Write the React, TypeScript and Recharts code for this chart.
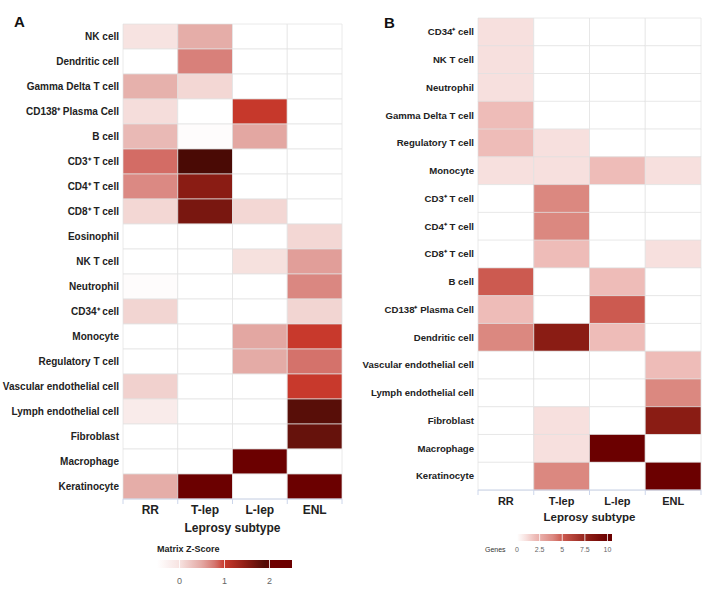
import React from "react";
import { BarChart, Bar, Cell, XAxis, YAxis } from "recharts";

const subtypes = ["RR", "T-lep", "L-lep", "ENL"];

// Panel A: matrix z-score per cell type
const rowsA = [
  "NK cell",
  "Dendritic cell",
  "Gamma Delta T cell",
  "CD138⁺ Plasma Cell",
  "B cell",
  "CD3⁺ T cell",
  "CD4⁺ T cell",
  "CD8⁺ T cell",
  "Eosinophil",
  "NK T cell",
  "Neutrophil",
  "CD34⁺ cell",
  "Monocyte",
  "Regulatory T cell",
  "Vascular endothelial cell",
  "Lymph endothelial cell",
  "Fibroblast",
  "Macrophage",
  "Keratinocyte",
];
const zRR = [0.0, -0.5, 0.42, 0.05, 0.35, 0.82, 0.67, 0.1, -0.5, -0.5, -0.45, 0.12, -0.5, -0.5, 0.15, -0.15, -0.5, -0.5, 0.45];
const zTlep = [0.45, 0.72, 0.1, -0.5, -0.45, 1.95, 1.5, 1.62, -0.5, -0.5, -0.5, -0.5, -0.5, -0.5, -0.5, -0.5, -0.5, -0.5, 2.5];
const zLlep = [-0.5, -0.5, -0.5, 1.02, 0.5, -0.5, -0.5, 0.1, -0.5, 0.02, -0.5, -0.5, 0.5, 0.47, -0.5, -0.5, -0.5, 2.5, -0.5];
const zENL = [-0.5, -0.5, -0.5, -0.5, -0.5, -0.5, -0.5, -0.5, 0.1, 0.55, 0.68, 0.12, 1.0, 0.8, 1.0, 1.85, 1.75, -0.5, 2.5];
const zTicks = [0, 1, 2];

// Panel B: number of genes per cell type
const rowsB = [
  "CD34⁺ cell",
  "NK T cell",
  "Neutrophil",
  "Gamma Delta T cell",
  "Regulatory T cell",
  "Monocyte",
  "CD3⁺ T cell",
  "CD4⁺ T cell",
  "CD8⁺ T cell",
  "B cell",
  "CD138⁺ Plasma Cell",
  "Dendritic cell",
  "Vascular endothelial cell",
  "Lymph endothelial cell",
  "Fibroblast",
  "Macrophage",
  "Keratinocyte",
];
const gRR = [1, 1, 1, 2, 2, 1, 0, 0, 0, 5, 2, 4, 0, 0, 0, 0, 0];
const gTlep = [0, 0, 0, 0, 1, 1, 4, 4, 2, 0, 0, 8, 0, 0, 1, 1, 4];
const gLlep = [0, 0, 0, 0, 0, 2, 0, 0, 0, 2, 5, 2, 0, 0, 0, 10, 0];
const gENL = [0, 0, 0, 0, 0, 1, 0, 0, 1, 0, 0, 0, 2, 4, 8, 0, 10];
const gTicks = [0, 2.5, 5, 7.5, 10];

const stopsA: [number, string][] = [
  [-0.5, "#ffffff"],
  [0, "#f7e3e1"],
  [0.5, "#e3a7a2"],
  [0.8, "#d4726b"],
  [1.0, "#c8392c"],
  [1.5, "#8a1c14"],
  [1.95, "#4a0a05"],
  [2.0, "#700000"],
  [2.5, "#6b0000"],
];
const stopsB: [number, string][] = [
  [0, "#ffffff"],
  [1, "#f7e0de"],
  [2, "#eebcb8"],
  [4, "#db8880"],
  [5, "#cc5a50"],
  [8, "#8a1c14"],
  [10, "#6b0000"],
  [10.5, "#6b0000"],
];

const hex = (c: string) => [1, 3, 5].map((i) => parseInt(c.slice(i, i + 2), 16));

const colorScale = (stops: [number, string][]) => (v: number) => {
  if (v <= stops[0][0]) return stops[0][1];
  for (let i = 1; i < stops.length; i++) {
    const [v1, c1] = stops[i];
    if (v <= v1) {
      const [v0, c0] = stops[i - 1];
      const t = (v - v0) / (v1 - v0);
      const a = hex(c0);
      const b = hex(c1);
      const m = a.map((x, k) => Math.round(x + (b[k] - x) * t));
      return `rgb(${m[0]},${m[1]},${m[2]})`;
    }
  }
  return stops[stops.length - 1][1];
};

const colorA = colorScale(stopsA);
const colorB = colorScale(stopsB);

const columnsA = [zRR, zTlep, zLlep, zENL];
const columnsB = [gRR, gTlep, gLlep, gENL];

const tableA = rowsA.map((cell) => ({ cell, RR: 1, "T-lep": 1, "L-lep": 1, ENL: 1 }));
const tableB = rowsB.map((cell) => ({ cell, RR: 1, "T-lep": 1, "L-lep": 1, ENL: 1 }));

const AXIS = "#ccd6eb";
const GRID = "rgba(225,225,225,0.7)";

const SubtypeTick = (props: any) => {
  const { x, y, payload, size } = props;
  const v = payload.value;
  if (Number.isInteger(v)) {
    return <line x1={x} x2={x} y1={y} y2={y + 5} stroke={AXIS} />;
  }
  return (
    <text x={x} y={y + 15} textAnchor="middle" fontSize={size} fontWeight={700} fill="#222">
      {subtypes[Math.floor(v)]}
    </text>
  );
};

const CellTick = (props: any) => {
  const { x, y, payload, size } = props;
  return (
    <text x={x} y={y} dy="0.35em" textAnchor="end" fontSize={size} fontWeight={700} fill="#222">
      {payload.value}
    </text>
  );
};

interface IHeatProps {
  data: { cell: string }[];
  columns: number[][];
  color: (v: number) => string;
  width: number;
  height: number;
  top: number;
  right: number;
  axisWidth: number;
  xHeight: number;
  bottom: number;
  tickSize: number;
  labelSize: number;
  titleOffset: number;
  titleSize: number;
}

const Heat: React.FC<IHeatProps> = ({
  data,
  columns,
  color,
  width,
  height,
  top,
  right,
  axisWidth,
  xHeight,
  bottom,
  tickSize,
  labelSize,
  titleOffset,
  titleSize,
}) => (
  <BarChart
    width={width}
    height={height}
    data={data}
    layout="vertical"
    barCategoryGap={0}
    barGap={0}
    margin={{ top, right, left: 0, bottom }}
  >
    <XAxis
      type="number"
      domain={[0, 4]}
      ticks={[0, 0.5, 1, 1.5, 2, 2.5, 3, 3.5, 4]}
      interval={0}
      height={xHeight}
      tickSize={0}
      tickMargin={0}
      tickLine={false}
      axisLine={{ stroke: AXIS }}
      tick={<SubtypeTick size={tickSize} />}
      label={{
        value: "Leprosy subtype",
        position: "insideTop",
        offset: titleOffset,
        fontSize: titleSize,
        fontWeight: 700,
        fill: "#222",
        style: { fontSize: titleSize, fontWeight: 700, fill: "#222" },
      }}
    />
    <YAxis
      type="category"
      dataKey="cell"
      width={axisWidth}
      interval={0}
      tickLine={false}
      axisLine={false}
      tickSize={0}
      tickMargin={4}
      tick={<CellTick size={labelSize} />}
    />
    {subtypes.map((s, j) => (
      <Bar key={s} dataKey={s} stackId="h" isAnimationActive={false} stroke={GRID} strokeWidth={1}>
        {data.map((_, i) => (
          <Cell key={i} fill={color(columns[j][i])} stroke={GRID} />
        ))}
      </Bar>
    ))}
  </BarChart>
);

interface ILegendProps {
  id: string;
  stops: [number, string][];
  ticks: number[];
  color: (v: number) => string;
  x0: number;
  x1: number;
  barY: number;
  barH: number;
  tickY: number;
  fontSize: number;
}

const ColorLegend: React.FC<ILegendProps> = ({ id, stops, ticks, color, x0, x1, barY, barH, tickY, fontSize }) => {
  const lo = stops[0][0];
  const hi = stops[stops.length - 1][0];
  const px = (v: number) => x0 + ((v - lo) / (hi - lo)) * (x1 - x0);
  const samples = Array.from({ length: 41 }, (_, k) => lo + ((hi - lo) * k) / 40);
  return (
    <g>
      <defs>
        <linearGradient id={id} x1="0" y1="0" x2="1" y2="0">
          {samples.map((v, k) => (
            <stop key={k} offset={`${(k / 40) * 100}%`} stopColor={color(v)} />
          ))}
        </linearGradient>
      </defs>
      <rect x={x0} y={barY} width={x1 - x0} height={barH} fill={`url(#${id})`} />
      {ticks.map((t) => (
        <g key={t}>
          <line x1={px(t)} x2={px(t)} y1={barY} y2={barY + barH} stroke="#ffffff" strokeOpacity={0.8} />
          <text x={px(t)} y={tickY} textAnchor="middle" fontSize={fontSize} fill="#666">
            {t}
          </text>
        </g>
      ))}
    </g>
  );
};

const App: React.FC = () => {
  return (
    <div
      style={{
        position: "absolute",
        left: 0,
        top: 0,
        width: 712,
        height: 597,
        background: "#fff",
        fontFamily: "'Liberation Sans', Arial, sans-serif",
      }}
    >
      <div style={{ position: "absolute", left: 0, top: 0 }}>
        <Heat
          data={tableA}
          columns={columnsA}
          color={colorA}
          width={360}
          height={545}
          top={24}
          right={18}
          axisWidth={123}
          xHeight={40}
          bottom={6}
          tickSize={12}
          labelSize={10}
          titleOffset={24}
          titleSize={12}
        />
      </div>
      <div style={{ position: "absolute", left: 350, top: 0 }}>
        <Heat
          data={tableB}
          columns={columnsB}
          color={colorB}
          width={362}
          height={530}
          top={18}
          right={11}
          axisWidth={128}
          xHeight={36}
          bottom={4}
          tickSize={11}
          labelSize={9.6}
          titleOffset={23}
          titleSize={11.5}
        />
      </div>
      <svg width={712} height={597} style={{ position: "absolute", left: 0, top: 0, pointerEvents: "none" }}>
        <text x={14} y={27} fontSize={15} fontWeight={700} fill="#111">
          A
        </text>
        <text x={384} y={28} fontSize={15} fontWeight={700} fill="#111">
          B
        </text>
        <text x={157} y={552} fontSize={9} fontWeight={700} fill="#222">
          Matrix Z-Score
        </text>
        <ColorLegend
          id="gradA"
          stops={stopsA}
          ticks={zTicks}
          color={colorA}
          x0={157}
          x1={292}
          barY={560}
          barH={8}
          tickY={584}
          fontSize={9}
        />
        <text x={485} y={552} fontSize={7} fill="#333">
          Genes
        </text>
        <ColorLegend
          id="gradB"
          stops={stopsB}
          ticks={gTicks}
          color={colorB}
          x0={517}
          x1={612}
          barY={534}
          barH={7}
          tickY={552}
          fontSize={7}
        />
      </svg>
    </div>
  );
};

export default App;
